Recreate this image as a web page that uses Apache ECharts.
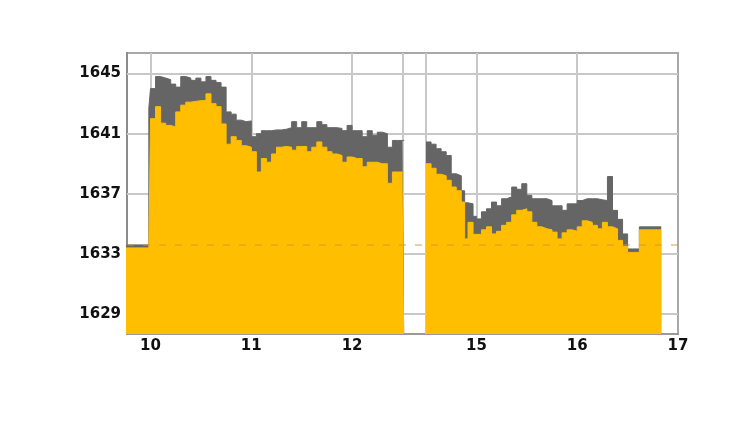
<!DOCTYPE html>
<html>
<head>
<meta charset="utf-8">
<script src="https://cdn.jsdelivr.net/npm/echarts@6/dist/echarts.min.js"></script>
<style>
html,body{margin:0;padding:0;background:#fff;}
#chart{width:750px;height:422px;}
</style>
</head>
<body>
<div id="chart"></div>
<script>
// Morning session (step values, each value holds until the next time)
const amTimes = ["09:45","09:59","10:00","10:03","10:06","10:09","10:12","10:15","10:18","10:21","10:24","10:27","10:30","10:33","10:36","10:39","10:42","10:45","10:48","10:51","10:54","10:57","11:00","11:03","11:06","11:09","11:12","11:15","11:18","11:21","11:24","11:27","11:30","11:33","11:36","11:39","11:42","11:45","11:48","11:51","11:54","11:57","12:00","12:03","12:06","12:09","12:12","12:15","12:18","12:21","12:24","12:27","12:30"];
const amHigh = [1633.6,1642.7,1644.0,1644.8,1644.7,1644.6,1644.3,1644.1,1644.8,1644.7,1644.55,1644.7,1644.45,1644.8,1644.55,1644.4,1644.1,1642.45,1642.3,1641.9,1641.8,1641.85,1640.8,1641.0,1641.2,1641.2,1641.25,1641.25,1641.3,1641.4,1641.8,1641.4,1641.8,1641.4,1641.4,1641.8,1641.6,1641.4,1641.4,1641.35,1641.2,1641.55,1641.2,1641.2,1640.8,1641.2,1640.9,1641.1,1641.0,1640.1,1640.55,1640.55,1640.55];
const amLow  = [1633.4,1633.4,1642.0,1642.8,1641.7,1641.55,1641.45,1642.45,1642.9,1643.1,1643.15,1643.2,1643.2,1643.65,1643.0,1642.8,1641.65,1640.3,1640.8,1640.55,1640.2,1640.1,1639.8,1638.45,1639.35,1639.1,1639.65,1640.1,1640.15,1640.1,1639.9,1640.15,1640.15,1639.8,1640.1,1640.45,1640.1,1639.8,1639.65,1639.55,1639.1,1639.45,1639.35,1639.35,1638.8,1639.1,1639.1,1639.0,1639.0,1637.7,1638.45,1638.45,1638.45];
// Afternoon session
const pmTimes = ["14:30","14:33","14:36","14:39","14:42","14:45","14:48","14:51","14:53","14:55","14:58","15:00","15:03","15:06","15:09","15:12","15:15","15:18","15:21","15:24","15:27","15:30","15:33","15:36","15:39","15:42","15:45","15:48","15:51","15:54","15:57","16:00","16:03","16:06","16:09","16:12","16:15","16:18","16:21","16:24","16:27","16:30","16:33","16:37","16:50"];
const pmHigh = [1640.45,1640.3,1640.0,1639.8,1639.55,1638.33,1638.2,1637.2,1636.4,1636.33,1635.5,1635.33,1635.8,1636.0,1636.45,1636.2,1636.67,1636.8,1637.45,1637.3,1637.67,1636.9,1636.67,1636.67,1636.67,1636.55,1636.2,1636.2,1635.9,1636.33,1636.33,1636.55,1636.67,1636.67,1636.67,1636.6,1636.55,1638.15,1635.9,1635.3,1634.33,1633.33,1633.33,1634.8,1634.8];
const pmLow  = [1639.0,1638.7,1638.3,1638.2,1637.9,1637.45,1637.2,1636.45,1634.0,1635.1,1634.3,1634.3,1634.6,1634.8,1634.33,1634.5,1634.9,1635.1,1635.6,1635.9,1636.0,1635.8,1635.1,1634.8,1634.67,1634.6,1634.45,1634.0,1634.4,1634.6,1634.5,1634.8,1635.2,1635.1,1634.9,1634.67,1635.1,1634.8,1634.67,1633.9,1633.5,1633.1,1633.1,1634.6,1634.6];
const prevClose = 1633.6;
const yTicks = [1629, 1633, 1637, 1641, 1645];
const xTickLabels = ["10:00","11:00","12:00","15:00","16:00","17:00"];
const xGridTimes = ["10:00","11:00","12:00","12:30","14:30","15:00","16:00"];

// lunch break compressed to a short gap on the axis
const GAP = 14;
function pos(t){
  const p = t.split(':').map(Number);
  const mins = p[0]*60 + p[1];
  return mins <= 750 ? mins : mins - 120 + GAP;
}
function toLabel(v){
  const mins = v <= 751 ? v : v + 120 - GAP;
  return String(Math.round(mins/60));
}
function build(times, vals){
  return times.map((t,i)=>[pos(t), vals[i]]);
}
const highData = build(amTimes, amHigh).concat([[751,'-']], build(pmTimes, pmHigh));
const lowData  = build(amTimes, amLow).concat([[751,'-']], build(pmTimes, pmLow));

const chart = echarts.init(document.getElementById('chart'), null, {renderer:'canvas'});
const labelFont = {color:'#111', fontFamily:'DejaVu Sans', fontWeight:'bold', fontSize:15};
chart.setOption({
  animation:false,
  backgroundColor:'#fff',
  grid:{left:127, right:72, top:53, bottom:88, show:true, borderColor:'#a8a8a8', borderWidth:2, backgroundColor:'#fff'},
  xAxis:{
    type:'value', min:586, max:914,
    axisLine:{show:true, lineStyle:{color:'#9a9a9a', width:2}},
    axisTick:{show:false},
    splitLine:{show:false},
    axisLabel:Object.assign({customValues: xTickLabels.map(pos), formatter: toLabel, margin:5, showMinLabel:true, showMaxLabel:true}, labelFont)
  },
  yAxis:{
    type:'value', min:1627.67, max:1646.37,
    axisLine:{show:true, lineStyle:{color:'#8c8c8c', width:2}},
    axisTick:{show:false},
    splitLine:{show:false},
    axisLabel:Object.assign({customValues: yTicks, margin:6, formatter: v => String(Math.round(v))}, labelFont)
  },
  series:[
    {
      type:'line', name:'high', data:highData, step:'end', showSymbol:false, z:3,
      lineStyle:{color:'#656565', width:1},
      itemStyle:{color:'#656565'},
      areaStyle:{color:'#656565', opacity:1, origin:'start'},
      markLine:{
        silent:true, symbol:'none', z:1, animation:false,
        label:{show:false},
        lineStyle:{color:'#c8c8c8', width:2, type:'solid'},
        data: xGridTimes.map(t=>({xAxis: pos(t)})).concat(yTicks.map(v=>({yAxis:v})))
      }
    },
    {
      type:'line', name:'low', data:lowData, step:'end', showSymbol:false, z:4,
      lineStyle:{color:'#FFBE00', width:1},
      itemStyle:{color:'#FFBE00'},
      areaStyle:{color:'#FFBE00', opacity:1, origin:'start'},
      markLine:{
        silent:true, symbol:'none', z:6, animation:false,
        label:{show:false},
        lineStyle:{color:'rgba(205,150,60,0.6)', width:1.5, type:[7,9]},
        data:[{yAxis: prevClose}]
      }
    }
  ]
});
</script>
</body>
</html>
